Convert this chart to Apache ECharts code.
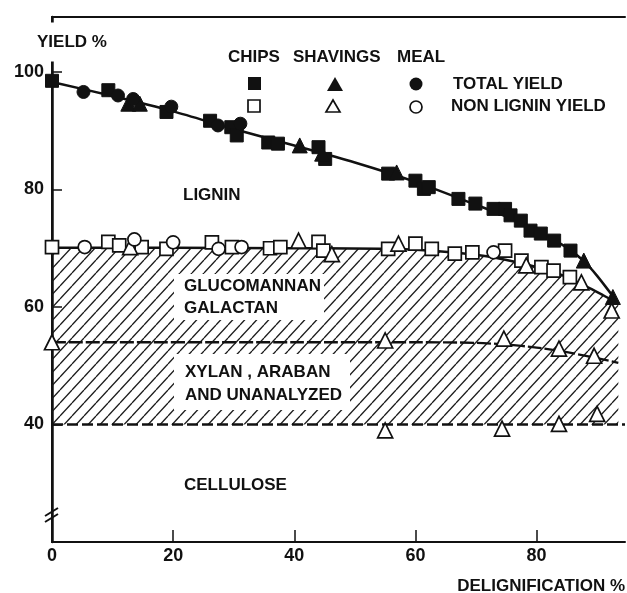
<!DOCTYPE html>
<html><head><meta charset="utf-8">
<script src="https://cdn.jsdelivr.net/npm/echarts@6/dist/echarts.min.js"></script>
<style>html,body{margin:0;padding:0;background:#fff}#c{width:627px;height:593px}</style>
</head><body><div id="c"></div>
<script>
// ---- data (x = delignification %, y = yield %) ----
const xTickLabels = [0, 20, 40, 60, 80];
const yTickLabels = [40, 60, 80, 100];

// total yield (filled markers)
const chipsTotal = [[0,98.5],[9.3,96.9],[18.9,93.2],[26.1,91.7],[29.6,90.6],[30.5,89.2],[35.7,88.0],[37.3,87.8],[44,87.2],[45.1,85.2],[55.5,82.7],[60,81.5],[61.4,80.1],[62.2,80.4],[67.1,78.4],[69.9,77.6],[72.9,76.7],[74.8,76.7],[75.7,75.6],[77.4,74.7],[79,73.0],[80.7,72.5],[82.9,71.3],[85.6,69.6]];
const shavingsTotal = [[12.6,94.6],[14.5,94.6],[40.9,87.5],[44.6,86.1],[56.9,82.9],[87.8,67.9],[92.6,61.7]];
const mealTotal = [[5.2,96.6],[10.9,96.0],[13.4,95.4],[19.7,94.1],[27.4,90.9],[31.1,91.2]];

// non lignin yield (open markers)
const chipsNonLignin = [[0,70.2],[9.3,71.1],[11.1,70.5],[14.8,70.2],[18.9,69.9],[26.4,71.0],[29.7,70.2],[36,70.0],[37.7,70.2],[44,71.1],[44.8,69.6],[55.5,69.9],[60,70.8],[62.7,69.9],[66.5,69.1],[69.4,69.3],[74.8,69.6],[77.5,67.9],[80.8,66.8],[82.8,66.2],[85.5,65.1]];
const shavingsNonLignin = [[12.9,70.2],[40.7,71.3],[46.2,69.0],[57.2,70.8],[78.3,67.1],[87.4,64.2],[92.4,59.4]];
const mealNonLignin = [[5.4,70.2],[13.6,71.5],[20,71.0],[27.5,69.9],[31.3,70.2],[72.9,69.3]];

// shavings: xylan boundary and cellulose
const shavingsXylan = [[0,54.0],[55,54.3],[74.6,54.6],[83.7,52.9],[89.5,51.7]];
const shavingsCellulose = [[55,39.0],[74.3,39.3],[83.7,40.1],[90,41.8]];

// fitted curves
const totalCurve = [[0,98.3],[10,95.9],[20,93.3],[30,90.3],[40,87.5],[50,84.6],[60,81.3],[70,77.4],[75,75.4],[80,73.0],[85,70.1],[88,67.6],[90,65.3],[93.5,60.6]];
const nonLigninCurve = [[0,70.1],[20,70.1],[40,70.0],[55,69.9],[62,69.6],[68,69.1],[72,68.6],[76,67.8],[80,66.8],[84,65.5],[88,63.6],[91,62.0],[93.5,60.6]];
const xylanCurve = [[0,54.0],[40,54.0],[60,54.0],[70,53.9],[75,53.6],[80,53.1],[85,52.3],[90,51.3],[93.5,50.5]];
const celluloseLine = [[0,40],[94.6,40]];
const celluloseLevel = 40;

// ---- styles ----
const FONT = '"Liberation Sans", Arial, sans-serif';
const INK = '#111';

function hatchPattern() {
  const w = 12, h = 13;
  const c = document.createElement('canvas');
  c.width = w; c.height = h;
  const g = c.getContext('2d');
  g.strokeStyle = '#1a1a1a';
  g.lineWidth = 1.3;
  for (let k = -1; k <= 1; k++) {
    g.beginPath();
    g.moveTo(k * w, h);
    g.lineTo((k + 1) * w, 0);
    g.stroke();
  }
  return { image: c, repeat: 'repeat' };
}

const chart = echarts.init(document.getElementById('c'), null, { renderer: 'canvas' });

function scatter(name, data, symbol, size, filled) {
  return {
    name, type: 'scatter', data, symbol, symbolSize: size, z: 5,
    itemStyle: filled ? { color: INK, borderColor: INK, borderWidth: 1, opacity: 1 }
                      : { color: '#fff', borderColor: INK, borderWidth: 1.7, opacity: 1 },
    emphasis: { disabled: true },
    silent: true
  };
}
function curve(name, data, opts) {
  return Object.assign({
    name, type: 'line', data, showSymbol: false, symbol: 'none', smooth: 0.3, z: 3,
    lineStyle: { color: INK, width: 2.5 }, silent: true
  }, opts || {});
}

const txt = (text, x, y, extra) => Object.assign({
  type: 'text', z: 60, x, y,
  style: Object.assign({ text, font: 'bold 17px ' + FONT, fill: INK, verticalAlign: 'middle', align: 'left' }, extra || {})
});

const option = {
  animation: false,
  backgroundColor: '#fff',
  grid: { left: 52, right: 2, top: 17, bottom: 51, containLabel: false },
  xAxis: [{
    type: 'value', min: 0, max: 94.6, position: 'bottom',
    splitLine: { show: false },
    axisLine: { show: true, lineStyle: { color: INK, width: 2 } },
    axisTick: { show: true, inside: true, length: 12, customValues: [20, 40, 60, 80], lineStyle: { color: INK, width: 1.5 } },
    axisLabel: { customValues: xTickLabels, margin: 5, color: INK, fontSize: 18, fontWeight: 'bold', fontFamily: FONT }
  }, {
    type: 'value', min: 0, max: 94.6, position: 'top',
    splitLine: { show: false },
    axisLine: { show: true, lineStyle: { color: INK, width: 2 } },
    axisTick: { show: false }, axisLabel: { show: false }
  }],
  yAxis: [{
    type: 'value', min: 20, max: 109.36, position: 'left',
    splitLine: { show: false },
    axisLine: { show: true, lineStyle: { color: INK, width: 2.5 } },
    axisTick: { show: true, inside: true, length: 10, customValues: yTickLabels, lineStyle: { color: INK, width: 1.5 } },
    axisLabel: { customValues: yTickLabels, margin: 8, color: INK, fontSize: 18, fontWeight: 'bold', fontFamily: FONT }
  }, {
    type: 'value', min: 20, max: 109.36, position: 'right',
    splitLine: { show: false },
    axisLine: { show: true, lineStyle: { color: INK, width: 2 } },
    axisTick: { show: false }, axisLabel: { show: false }
  }],
  series: [
    curve('hatch', nonLigninCurve, {
      z: 1, lineStyle: { width: 0, color: 'transparent' },
      areaStyle: { origin: celluloseLevel, color: hatchPattern(), opacity: 1 }
    }),
    curve('cellulose', celluloseLine, { smooth: false, lineStyle: { color: INK, width: 2.5, type: [11, 4] } }),
    curve('xylan', xylanCurve, { lineStyle: { color: INK, width: 2.3, type: [14, 3] } }),
    curve('nonLignin', nonLigninCurve),
    curve('total', totalCurve),
    scatter('chipsTotal', chipsTotal, 'rect', 13, true),
    scatter('shavingsTotal', shavingsTotal, 'triangle', 15, true),
    scatter('mealTotal', mealTotal, 'circle', 13, true),
    scatter('chipsNonLignin', chipsNonLignin, 'rect', 13, false),
    scatter('shavingsNonLignin', shavingsNonLignin, 'triangle', 15, false),
    scatter('mealNonLignin', mealNonLignin, 'circle', 13, false),
    scatter('shavingsXylan', shavingsXylan, 'triangle', 15, false),
    scatter('shavingsCellulose', shavingsCellulose, 'triangle', 15, false)
  ],
  graphic: [
    // white boxes behind region labels
    { type: 'rect', z: 50, shape: { x: 174, y: 274, width: 150, height: 46 }, style: { fill: '#fff' } },
    { type: 'rect', z: 50, shape: { x: 174, y: 354, width: 176, height: 56 }, style: { fill: '#fff' } },
    // axis title + gap in y axis
    txt('YIELD %', 35, 42, { backgroundColor: '#fff', padding: [12, 2, 10, 2] }),
    txt('DELIGNIFICATION %', 625, 586, { align: 'right' }),
    // region labels
    txt('LIGNIN', 183, 195),
    txt('GLUCOMANNAN', 184, 286),
    txt('GALACTAN', 184, 308),
    txt('XYLAN , ARABAN', 185, 372),
    txt('AND UNANALYZED', 185, 395),
    txt('CELLULOSE', 184, 485),
    // legend table
    txt('CHIPS', 228, 57),
    txt('SHAVINGS', 293, 57),
    txt('MEAL', 397, 57),
    txt('TOTAL YIELD', 453, 84),
    txt('NON LIGNIN YIELD', 451, 106),
    { type: 'rect', z: 60, shape: { x: 248, y: 77, width: 13, height: 13 }, style: { fill: INK } },
    { type: 'polygon', z: 60, shape: { points: [[327, 91], [343, 91], [335, 77]] }, style: { fill: INK } },
    { type: 'circle', z: 60, shape: { cx: 416, cy: 84, r: 6.5 }, style: { fill: INK } },
    { type: 'rect', z: 60, shape: { x: 248, y: 100, width: 12, height: 12 }, style: { fill: '#fff', stroke: INK, lineWidth: 1.7 } },
    { type: 'polygon', z: 60, shape: { points: [[326, 112], [340, 112], [333, 100]] }, style: { fill: '#fff', stroke: INK, lineWidth: 1.7 } },
    { type: 'circle', z: 60, shape: { cx: 416, cy: 107, r: 6 }, style: { fill: '#fff', stroke: INK, lineWidth: 1.7 } },
    // axis break mark
    { type: 'line', z: 60, shape: { x1: 45, y1: 516, x2: 58, y2: 508 }, style: { stroke: INK, lineWidth: 2 } },
    { type: 'line', z: 60, shape: { x1: 45, y1: 522, x2: 58, y2: 514 }, style: { stroke: INK, lineWidth: 2 } }
  ]
};
chart.setOption(option);
</script></body></html>
